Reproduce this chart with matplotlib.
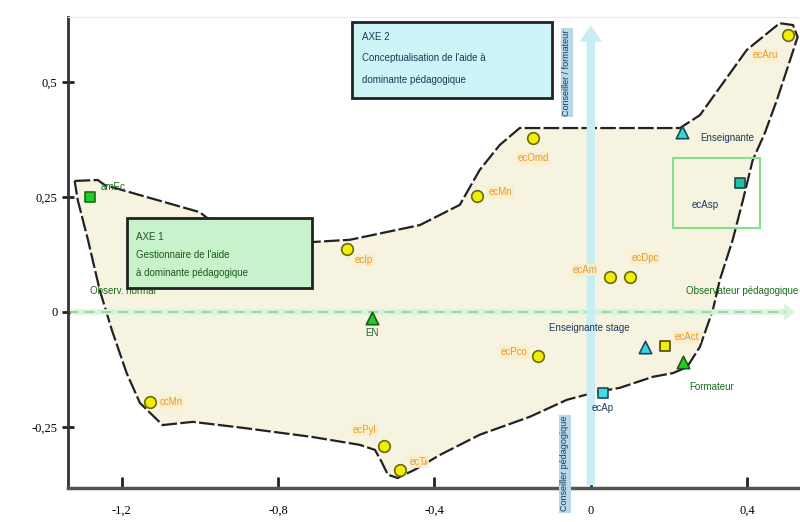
import matplotlib.pyplot as plt
from matplotlib.patches import Rectangle, Polygon

plt.rcParams['font.family'] = ['Liberation Sans', 'DejaVu Sans']

# enveloppe (contour du nuage)
hull_x = [-1.320, -1.261, -1.243, -1.000, -0.910, -0.714, -0.616, -0.437, -0.335, -0.284,
          -0.233, -0.182, 0.228, 0.279, 0.399, 0.483, 0.517, 0.529, 0.476, 0.445,
          0.414, 0.389, 0.363, 0.330, 0.312, 0.279, 0.246, 0.210, 0.159, 0.074,
          0.015, -0.061, -0.156, -0.284, -0.386, -0.450, -0.494, -0.519, -0.535, -0.552,
          -0.591, -0.711, -0.890, -1.018, -1.095, -1.153, -1.187, -1.225, -1.256, -1.286,
          -1.312]
hull_y = [0.285, 0.287, 0.276, 0.217, 0.157, 0.152, 0.157, 0.189, 0.233, 0.309,
          0.363, 0.400, 0.400, 0.428, 0.570, 0.628, 0.624, 0.598, 0.461, 0.389,
          0.330, 0.243, 0.157, 0.070, 0.004, -0.076, -0.120, -0.133, -0.141, -0.165,
          -0.174, -0.191, -0.228, -0.267, -0.311, -0.343, -0.361, -0.354, -0.326, -0.300,
          -0.289, -0.272, -0.252, -0.239, -0.246, -0.198, -0.133, -0.039, 0.048, 0.157,
          0.243]

# points
names = ['amEc', 'ccMn', 'ecIp', 'EN', 'ecPyl', 'ecTi', 'ecMn', 'ecOmd', 'ecPco',
         'ecAm', 'ecDpc', 'Enseignante stage', 'ecAct', 'Formateur', 'ecAp',
         'Enseignante', 'ecAsp', 'ecAru']
px = [-1.280, -1.128, -0.624, -0.560, -0.530, -0.488, -0.292, -0.148, -0.136,
      0.049, 0.100, 0.138, 0.189, 0.235, 0.031, 0.233, 0.381, 0.504]
py = [0.250, -0.196, 0.137, -0.013, -0.291, -0.343, 0.252, 0.378, -0.096,
      0.076, 0.076, -0.076, -0.074, -0.109, -0.176, 0.391, 0.280, 0.602]
kinds = ['gsq', 'ycirc', 'ycirc', 'gtri', 'ycirc', 'ycirc', 'ycirc', 'ycirc', 'ycirc',
         'ycirc', 'ycirc', 'ctri', 'ysq', 'gtri', 'csq', 'ctri', 'tsq', 'ycirc']

xticks = [-1.2, -0.8, -0.4, 0, 0.4]
xtick_labels = ['-1,2', '-0,8', '-0,4', '0', '0,4']
yticks = [-0.25, 0, 0.25, 0.5]
ytick_labels = ['-0,25', '0', '0,25', '0,5']

styles = {
    'ycirc': dict(marker='o', c='#f2ee00', edgecolors='#6a6a10', s=70),
    'ysq': dict(marker='s', c='#f2ee00', edgecolors='#4a4a10', s=60),
    'gsq': dict(marker='s', c='#22cc22', edgecolors='#1a6a1a', s=60),
    'gtri': dict(marker='^', c='#22cc22', edgecolors='#1a5a1a', s=80),
    'ctri': dict(marker='^', c='#3ad4dc', edgecolors='#1a4a5a', s=80),
    'csq': dict(marker='s', c='#44dce4', edgecolors='#1a4a5a', s=60),
    'tsq': dict(marker='s', c='#20c0a0', edgecolors='#1a4a4a', s=60),
}
label_colors = {'ycirc': '#e89a30', 'ysq': '#e89a30', 'gsq': '#1a6a1a', 'gtri': '#1a6a1a',
                'ctri': '#1a3a5a', 'csq': '#1a3a5a', 'tsq': '#1a3a5a'}
# décalages des étiquettes (pixels) et alignement
offsets = [(10, 10, 'left'), (10, 0, 'left'), (8, -11, 'left'), (0, -15, 'center'),
           (-19, 16, 'center'), (10, 8, 'left'), (12, 4, 'left'), (0, -20, 'center'),
           (-10, 4, 'right'), (-12, 7, 'right'), (15, 19, 'center'), (-55, 19, 'center'),
           (10, 9, 'left'), (7, -25, 'left'), (0, -15, 'center'), (18, -6, 'left'),
           (-35, -22, 'center'), (-23, -20, 'center')]

fig = plt.figure(figsize=(8, 5.22), dpi=100)
ax = fig.add_axes([0.085, 0.065, 0.915, 0.902])
ax.set_xlim(-1.337, 0.535)
ax.set_ylim(-0.383, 0.641)

ax.add_patch(Polygon(list(zip(hull_x, hull_y)), closed=True, facecolor='#f6f4e1',
                     edgecolor='#222222', lw=1.6, linestyle=(0, (7, 1.5)), zorder=1))

# axe horizontal vert
ax.annotate('', xy=(0.53, 0), xytext=(-1.337, 0),
            arrowprops=dict(arrowstyle='simple,head_width=1.2,head_length=0.8,tail_width=0.4',
                            fc='#d6f4da', ec='none'), zorder=2)
ax.plot([-1.337, 0.5], [0, 0], color='#8fd49a', lw=1.2, linestyle=(0, (6, 4)), zorder=2)

# axe vertical bleu
ax.annotate('', xy=(0.0, 0.63), xytext=(0.0, -0.383),
            arrowprops=dict(arrowstyle='simple,head_width=1.6,head_length=1.2,tail_width=0.6',
                            fc='#c6eef4', ec='none'), zorder=2, annotation_clip=False)

for x, y, k in zip(px, py, kinds):
    ax.scatter([x], [y], zorder=5, linewidths=1.2, **styles[k])

for n, x, y, k, (dx, dy, ha) in zip(names, px, py, kinds, offsets):
    c = label_colors[k]
    bb = dict(boxstyle='square,pad=0.15', fc='#fbeec8', ec='none', alpha=0.85) if c == '#e89a30' else None
    ax.annotate(n, (x, y), xytext=(dx, dy), textcoords='offset pixels', ha=ha, va='center',
                fontsize=7, color=c, bbox=bb, zorder=6)

ax.text(-1.28, 0.04, 'Observ. normal', fontsize=7, color='#1a6a1a', zorder=6)
ax.text(0.53, 0.04, 'Observateur pédagogique', fontsize=7, color='#1a6a1a', ha='right', zorder=6)

ax.text(-0.061, 0.52, 'Conseiller / formateur', rotation=90, fontsize=6.5, color='#1a3a5a',
        ha='center', va='center', zorder=6,
        bbox=dict(boxstyle='square,pad=0.15', fc='#b8d8e8', ec='none'))
ax.text(-0.066, -0.33, 'Conseiller pédagogique', rotation=90, fontsize=6.5, color='#1a3a5a',
        ha='center', va='center', zorder=6, clip_on=False,
        bbox=dict(boxstyle='square,pad=0.15', fc='#b8d8e8', ec='none'))

# boîtes AXE
fig.patches.append(Rectangle((352 / 800, 1 - 98 / 522), 200 / 800, 76 / 522, transform=fig.transFigure,
                             fc='#cdf4f6', ec='#222222', lw=2, zorder=7))
fig.text(362 / 800, 1 - 40 / 522, 'AXE 2', fontsize=7, color='#1a3a5a', zorder=8)
fig.text(362 / 800, 1 - 61 / 522, "Conceptualisation de l'aide à", fontsize=7, color='#1a3a5a', zorder=8)
fig.text(362 / 800, 1 - 83 / 522, 'dominante pédagogique', fontsize=7, color='#1a3a5a', zorder=8)

fig.patches.append(Rectangle((127 / 800, 1 - 288 / 522), 185 / 800, 70 / 522, transform=fig.transFigure,
                             fc='#c8f2cc', ec='#222222', lw=2, zorder=7))
fig.text(136 / 800, 1 - 240 / 522, 'AXE 1', fontsize=7, color='#1a5a1a', zorder=8)
fig.text(136 / 800, 1 - 258 / 522, "Gestionnaire de l'aide", fontsize=7, color='#1a5a1a', zorder=8)
fig.text(136 / 800, 1 - 276 / 522, 'à dominante pédagogique', fontsize=7, color='#1a5a1a', zorder=8)

fig.patches.append(Rectangle((673 / 800, 1 - 228 / 522), 87 / 800, 70 / 522, transform=fig.transFigure,
                             fc='none', ec='#88dd88', lw=1.5, zorder=7))

ax.set_xticks(xticks)
ax.set_xticklabels(xtick_labels, fontfamily='Liberation Serif', fontsize=9)
ax.set_yticks(yticks)
ax.set_yticklabels(ytick_labels, fontfamily='Liberation Serif', fontsize=9)
ax.tick_params(axis='x', direction='in', length=8, width=2, color='#222222', pad=12)
ax.tick_params(axis='y', direction='inout', length=8, width=2, color='#222222')
for s in ['right']:
    ax.spines[s].set_visible(False)
ax.spines['top'].set_color('#eeeadb')
ax.spines['left'].set_linewidth(2)
ax.spines['left'].set_color('#333333')
ax.spines['bottom'].set_linewidth(2.5)
ax.spines['bottom'].set_color('#555555')

fig.savefig('out.png', dpi=100)
